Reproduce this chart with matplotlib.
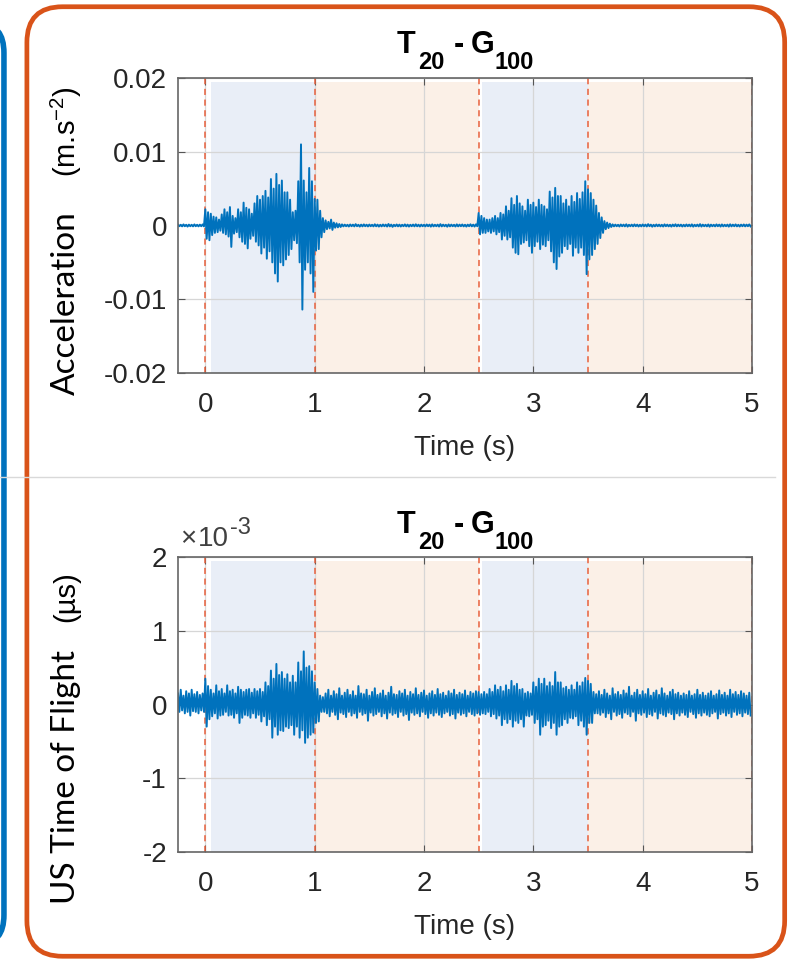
import numpy as np
import matplotlib.pyplot as plt
from matplotlib.patches import FancyBboxPatch
from matplotlib.lines import Line2D
from matplotlib.transforms import IdentityTransform

plt.rcParams['axes.unicode_minus'] = False
plt.rcParams['mathtext.fontset'] = 'custom'
plt.rcParams['mathtext.rm'] = 'Liberation Sans'
plt.rcParams['mathtext.it'] = 'Liberation Sans:italic'
plt.rcParams['mathtext.bf'] = 'Liberation Sans:bold'

# ---------------------------------------------------------------------------
# Data: signal envelope per 0.025 s bin, starting t=-0.25
# (upper / lower peak in each bin). Units: 1e-3 m.s-2 (top), 1e-3 us (bottom)
# ---------------------------------------------------------------------------
T0 = -0.25
DT = 0.025

acc_up = [
    0.12, 0.10, 0.15, 0.10, 0.12, 0.10, 0.15, 0.10, 0.12, 0.15,
    2.2, 1.8, 1.6, 1.2, 1.1, 0.8, 1.5, 2.2, 1.8, 2.5,
    1.3, 1.0, 2.2, 1.8, 3.1, 2.4, 2.2, 1.6, 3.0, 4.0,
    3.5, 4.0, 4.7, 3.8, 6.3, 5.0, 7.0, 5.5, 6.1, 4.5,
    4.5, 3.5, 1.8, 2.0, 6.0, 11.0, 6.1, 4.5, 7.8, 6.0,
    3.6, 3.5, 2.0, 1.0, 0.7, 0.5, 0.8, 0.4, 0.3, 0.2,
    0.15, 0.12, 0.10, 0.14, 0.12, 0.18, 0.10, 0.12, 0.15, 0.11,
    0.13, 0.10, 0.16, 0.12, 0.10, 0.14, 0.12, 0.20, 0.12, 0.10,
    0.14, 0.12, 0.10, 0.15, 0.12, 0.10, 0.13, 0.16, 0.11, 0.12,
    0.10, 0.14, 0.12, 0.15, 0.10, 0.12, 0.18, 0.12, 0.10, 0.14,
    0.12, 0.10, 0.15, 0.12, 0.14, 0.10, 0.12, 0.16, 0.12, 0.15,
    1.7, 1.3, 1.0, 0.8, 0.8, 1.0, 1.3, 1.0, 1.7, 1.5,
    2.6, 2.0, 3.7, 2.8, 4.0, 3.0, 2.6, 2.0, 3.5, 2.8,
    3.1, 2.5, 3.5, 2.8, 2.6, 2.2, 4.6, 3.8, 5.1, 4.0,
    4.0, 3.0, 3.5, 2.6, 4.0, 3.2, 4.4, 3.6, 4.5, 6.0,
    4.9, 4.4, 3.5, 2.7, 1.7, 1.1, 0.6, 0.4, 0.25,
    0.15, 0.12, 0.10, 0.14, 0.12, 0.16, 0.10, 0.12, 0.15, 0.12,
    0.10, 0.14, 0.12, 0.18, 0.12, 0.10, 0.14, 0.12, 0.10, 0.15,
    0.12, 0.10, 0.13, 0.16, 0.12, 0.12, 0.10, 0.14, 0.12, 0.15,
    0.10, 0.12, 0.18, 0.12, 0.10, 0.14, 0.12, 0.10, 0.15, 0.12,
    0.14, 0.10, 0.12, 0.16, 0.12, 0.15, 0.10, 0.12, 0.14, 0.12, 0.15,
]
acc_lo = [
    -0.10, -0.12, -0.10, -0.15, -0.10, -0.12, -0.10, -0.12, -0.10, -0.12,
    -1.8, -2.0, -1.3, -1.0, -0.9, -0.7, -1.0, -1.2, -1.5, -2.9,
    -1.1, -0.9, -1.6, -2.2, -2.5, -3.1, -1.8, -1.4, -2.2, -2.7,
    -3.8, -3.0, -4.5, -3.5, -5.0, -6.5, -7.6, -5.0, -5.4, -4.6,
    -4.0, -3.2, -2.0, -2.4, -5.0, -11.4, -6.0, -5.0, -6.5, -9.0,
    -3.4, -3.2, -1.6, -0.9, -0.5, -0.4, -0.6, -0.3, -0.25, -0.2,
    -0.12, -0.10, -0.14, -0.10, -0.12, -0.10, -0.15, -0.12, -0.10, -0.13,
    -0.10, -0.12, -0.11, -0.15, -0.12, -0.10, -0.14, -0.12, -0.18, -0.10,
    -0.12, -0.14, -0.10, -0.12, -0.15, -0.10, -0.12, -0.11, -0.14, -0.10,
    -0.12, -0.10, -0.15, -0.12, -0.10, -0.14, -0.12, -0.10, -0.16, -0.12,
    -0.10, -0.14, -0.12, -0.10, -0.12, -0.15, -0.10, -0.12, -0.14, -0.10,
    -1.2, -1.0, -1.0, -0.8, -1.0, -0.8, -1.2, -0.9, -1.9, -1.4,
    -1.9, -1.6, -3.0, -3.7, -3.9, -2.5, -2.3, -2.0, -2.8, -3.7,
    -2.8, -2.2, -3.2, -2.6, -2.8, -2.0, -3.5, -5.0, -5.9, -4.2,
    -3.7, -2.8, -3.2, -2.5, -4.1, -3.0, -3.7, -3.0, -4.0, -6.6,
    -4.6, -4.0, -3.2, -2.5, -1.7, -1.0, -0.5, -0.35, -0.2,
    -0.12, -0.10, -0.14, -0.10, -0.12, -0.15, -0.10, -0.12, -0.10, -0.14,
    -0.12, -0.10, -0.13, -0.10, -0.16, -0.12, -0.10, -0.12, -0.14, -0.10,
    -0.12, -0.15, -0.10, -0.12, -0.10, -0.14, -0.12, -0.10, -0.12, -0.15,
    -0.10, -0.12, -0.14, -0.10, -0.12, -0.16, -0.10, -0.12, -0.10, -0.14,
    -0.12, -0.10, -0.15, -0.12, -0.10, -0.12, -0.14, -0.10, -0.12, -0.10, -0.13,
]

tof_up = [
    0.15, 0.20, 0.12, 0.18, 0.15, 0.20, 0.14, 0.17, 0.13, 0.15,
    0.35, 0.25, 0.20, 0.15, 0.26, 0.18, 0.21, 0.15, 0.26, 0.18,
    0.20, 0.15, 0.24, 0.20, 0.17, 0.20, 0.21, 0.16, 0.21, 0.18,
    0.21, 0.17, 0.30, 0.25, 0.46, 0.35, 0.55, 0.40, 0.44, 0.35,
    0.41, 0.30, 0.39, 0.30, 0.57, 0.45, 0.72, 0.50, 0.52, 0.45,
    0.30, 0.21, 0.12, 0.10,
    0.15, 0.20, 0.12, 0.18, 0.14, 0.22, 0.12, 0.16, 0.20, 0.13,
    0.18, 0.12, 0.25, 0.15, 0.14, 0.20, 0.12, 0.17, 0.22, 0.13,
    0.15, 0.19, 0.12, 0.16, 0.24, 0.14, 0.13, 0.18, 0.15, 0.20,
    0.12, 0.17, 0.14, 0.22, 0.13, 0.16, 0.19, 0.12, 0.15, 0.18,
    0.13, 0.21, 0.14, 0.16, 0.12, 0.18, 0.15, 0.20, 0.13, 0.16,
    0.14, 0.19, 0.12, 0.17, 0.15, 0.18,
    0.17, 0.14, 0.17, 0.14, 0.21, 0.17, 0.26, 0.20, 0.24, 0.18,
    0.26, 0.20, 0.32, 0.25, 0.28, 0.20, 0.21, 0.15, 0.17, 0.15,
    0.30, 0.24, 0.35, 0.28, 0.35, 0.25, 0.30, 0.25, 0.44, 0.30,
    0.30, 0.22, 0.24, 0.20, 0.26, 0.20, 0.30, 0.25, 0.30, 0.36,
    0.32, 0.28, 0.17, 0.14,
    0.18, 0.13, 0.20, 0.15, 0.12, 0.22, 0.14, 0.17, 0.13, 0.19,
    0.15, 0.24, 0.12, 0.16, 0.20, 0.13, 0.18, 0.14, 0.21, 0.12,
    0.16, 0.19, 0.13, 0.22, 0.15, 0.12, 0.17, 0.20, 0.14, 0.16,
    0.12, 0.15, 0.13, 0.18, 0.12, 0.14, 0.20, 0.13, 0.16, 0.12,
    0.15, 0.18, 0.12, 0.14, 0.19, 0.13, 0.16, 0.12, 0.20, 0.14,
    0.17, 0.13, 0.18, 0.15, 0.12, 0.16,
]
tof_lo = [
    -0.10, -0.08, -0.12, -0.10, -0.15, -0.09, -0.10, -0.12, -0.08, -0.10,
    -0.30, -0.20, -0.16, -0.12, -0.19, -0.15, -0.14, -0.10, -0.15, -0.14,
    -0.18, -0.12, -0.25, -0.18, -0.14, -0.15, -0.18, -0.12, -0.18, -0.14,
    -0.23, -0.16, -0.28, -0.20, -0.45, -0.30, -0.41, -0.35, -0.36, -0.30,
    -0.32, -0.28, -0.41, -0.30, -0.45, -0.35, -0.52, -0.45, -0.41, -0.38,
    -0.25, -0.23, -0.10, -0.10,
    -0.12, -0.16, -0.10, -0.14, -0.20, -0.11, -0.13, -0.17, -0.10, -0.15,
    -0.12, -0.18, -0.10, -0.14, -0.12, -0.22, -0.11, -0.15, -0.13, -0.10,
    -0.16, -0.12, -0.19, -0.11, -0.14, -0.12, -0.17, -0.10, -0.15, -0.13,
    -0.21, -0.11, -0.14, -0.12, -0.16, -0.10, -0.13, -0.18, -0.12, -0.15,
    -0.11, -0.14, -0.17, -0.12, -0.10, -0.15, -0.13, -0.19, -0.11, -0.14,
    -0.12, -0.16, -0.10, -0.13, -0.15, -0.12,
    -0.14, -0.12, -0.13, -0.10, -0.16, -0.13, -0.19, -0.15, -0.28, -0.20,
    -0.25, -0.20, -0.30, -0.22, -0.25, -0.20, -0.30, -0.15, -0.16, -0.14,
    -0.25, -0.20, -0.41, -0.30, -0.28, -0.22, -0.32, -0.25, -0.41, -0.30,
    -0.28, -0.20, -0.25, -0.18, -0.19, -0.16, -0.28, -0.22, -0.30, -0.41,
    -0.25, -0.25, -0.12, -0.12,
    -0.14, -0.11, -0.17, -0.12, -0.20, -0.10, -0.15, -0.13, -0.18, -0.11,
    -0.13, -0.16, -0.10, -0.22, -0.12, -0.14, -0.11, -0.17, -0.13, -0.15,
    -0.10, -0.19, -0.12, -0.14, -0.16, -0.11, -0.13, -0.20, -0.12, -0.15,
    -0.11, -0.14, -0.17, -0.10, -0.13, -0.18, -0.12, -0.15, -0.11, -0.14,
    -0.16, -0.12, -0.10, -0.19, -0.13, -0.11, -0.15, -0.12, -0.17, -0.10,
    -0.14, -0.12, -0.16, -0.11, -0.13, -0.15,
]

# test phases (start, end, kind) and event markers (s)
phases = [(0.05, 1.0, 'tap'), (1.0, 2.5, 'rest'), (2.53, 3.5, 'tap'), (3.5, 5.0, 'rest')]
events = [0.0, 1.0, 2.5, 3.5, 5.0]

x_ticks = [0, 1, 2, 3, 4, 5]
acc_ticks = [-0.02, -0.01, 0, 0.01, 0.02]
acc_ticklabels = ['-0.02', '-0.01', '0', '0.01', '0.02']
tof_ticks = [-2, -1, 0, 1, 2]

# title "T20 - G100" as (text, is_subscript, gap after in px)
title_parts = [('T', False, 3), ('20', True, 9), ('-', False, 7), ('G', False, 0), ('100', True, 0)]
# exponent label "x10^-3" as (text, is_superscript, gap after in px)
exp_parts = [('\u00d7', False, 2), ('10', False, 1), ('-3', True, 0)]

# ---------------------------------------------------------------------------
BLUE = '#0072bd'
ORANGE = '#d95319'
DARK = '#262626'
shade = {'tap': '#e9eef7', 'rest': '#fbf0e7'}

fig = plt.figure(figsize=(7.91, 9.63), dpi=100)
renderer = fig.canvas.get_renderer()
H = 963
PX = IdentityTransform()

# panel frames
fig.add_artist(FancyBboxPatch((-0.2, 0.02), 0.205, 0.955, boxstyle='round,pad=0,rounding_size=0.03',
                              transform=fig.transFigure, fc='none', ec=BLUE, lw=4))
fig.add_artist(Line2D([0.0, 0.98], [1 - 477 / H] * 2, transform=fig.transFigure,
                      color='#d9d9d9', lw=1))
fig.add_artist(FancyBboxPatch((0.034, 0.007), 0.958, 0.986, boxstyle='round,pad=0,rounding_size=0.045',
                              transform=fig.transFigure, fc='none', ec=ORANGE, lw=3.4,
                              mutation_aspect=791 / H))


def envelope_line(up, lo):
    n = min(len(up), len(lo))
    t = T0 + DT * np.arange(n)
    x = np.empty(2 * n)
    y = np.empty(2 * n)
    x[0::2] = t
    x[1::2] = t + DT / 2
    y[0::2] = up[:n]
    y[1::2] = lo[:n]
    return x, y


def pieces(parts, x, baseline_from_top, big, small, shift, weight, color, center=True):
    # MATLAB-style text with large sub/superscripts, placed piece by piece in pixels
    widths = []
    for s, scr, gap in parts:
        tmp = fig.text(0, 0, s, fontsize=small if scr else big, fontweight=weight,
                       family='Liberation Sans')
        widths.append(tmp.get_window_extent(renderer).width)
        tmp.remove()
    if center:
        x -= (sum(widths) + sum(p[2] for p in parts)) / 2
    y0 = H - baseline_from_top
    for (s, scr, gap), w in zip(parts, widths):
        fig.text(x, y0 + (shift if scr else 0), s, transform=PX,
                 fontsize=small if scr else big, fontweight=weight, family='Liberation Sans',
                 va='baseline', ha='left', color=color)
        x += w + gap


def ylabel_pair(name, unit, name_center, unit_center):
    # quantity in a Calibri-like face, unit in an Arial-like face
    fig.text(66, H - name_center, name, transform=PX, rotation=90, ha='center', va='center',
             fontsize=24, family='Lato', color='black')
    fig.text(66, H - unit_center, unit, transform=PX, rotation=90, ha='center', va='center',
             fontsize=21, family='Liberation Sans', color='black')


def style_axes(ax, ylim, yticks):
    for a, b, kind in phases:
        ax.axvspan(a, b, ymin=0.0, ymax=0.985, color=shade[kind], lw=0, zorder=0.5)
    for e in events:
        ax.axvline(e, color='#e8603c', ls=(0, (4, 3)), lw=1.1, zorder=1.8)
    ax.set_xlim(-0.25, 5)
    ax.set_ylim(*ylim)
    ax.set_xticks(x_ticks)
    ax.set_yticks(yticks)
    ax.grid(True, color='#d6d6d6', lw=0.9)
    ax.tick_params(direction='in', length=5, top=True, right=True, color='#555555',
                   labelsize=20, labelcolor=DARK)
    ax.tick_params(axis='x', pad=14)
    ax.tick_params(axis='y', pad=8)
    for lab in ax.get_xticklabels() + ax.get_yticklabels():
        lab.set_fontfamily('Liberation Sans')
    for s in ax.spines.values():
        s.set_color('#666666')
        s.set_linewidth(1.2)
    ax.set_xlabel('Time (s)', fontsize=20, color=DARK, family='Liberation Sans', labelpad=12)


# top: acceleration
ax1 = fig.add_axes([178 / 791, 1 - 373 / H, 574 / 791, 295 / H])
style_axes(ax1, (-0.02, 0.02), acc_ticks)
ax1.set_yticklabels(acc_ticklabels)
x, y = envelope_line(acc_up, acc_lo)
ax1.plot(x, np.array(y) * 1e-3, color=BLUE, lw=1.4, zorder=2)
ylabel_pair('Acceleration', r'(m.s$^{-2}$)', 303.5, 132)
pieces(title_parts, 465, 52.5, 22, 17, -16, 'bold', 'black')

# bottom: ultrasonic time of flight
ax2 = fig.add_axes([178 / 791, 1 - 852 / H, 574 / 791, 295 / H])
style_axes(ax2, (-2, 2), tof_ticks)
x, y = envelope_line(tof_up, tof_lo)
ax2.plot(x, y, color=BLUE, lw=1.4, zorder=2)
pieces(exp_parts, 180, 546, 20, 17, 12, 'normal', '#404040', center=False)
ylabel_pair('US Time of Flight', '(\u00b5s)', 777, 597)
pieces(title_parts, 465, 533, 22, 17, -16, 'bold', 'black')

fig.savefig('out.png', dpi=100)
